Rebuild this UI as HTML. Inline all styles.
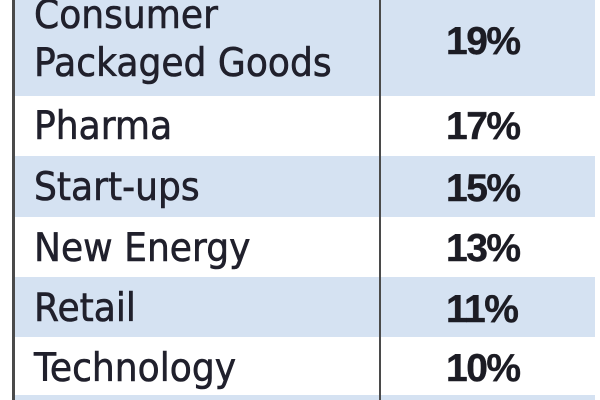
<!DOCTYPE html>
<html>
<head>
<meta charset="utf-8">
<style>
html,body{margin:0;padding:0;}
body{width:600px;height:400px;position:relative;overflow:hidden;background:#fff;}
.band{position:absolute;left:15px;width:580px;background:#d5e2f2;}
.vl{position:absolute;top:0;height:400px;background:#4a4a4a;}
.t{position:absolute;font-family:"DejaVu Sans",sans-serif;font-size:39px;line-height:39px;color:#20202c;white-space:nowrap;transform:scaleX(0.925);transform-origin:0 0;-webkit-text-stroke:0.6px #20202c;}
.n{position:absolute;font-family:"Liberation Sans",sans-serif;font-weight:bold;font-size:39px;line-height:39px;color:#1c1c24;letter-spacing:-1.5px;white-space:nowrap;-webkit-text-stroke:0.4px #1c1c24;}
</style>
</head>
<body>
<div class="band" style="top:0;height:96px;"></div>
<div class="band" style="top:156px;height:61px;"></div>
<div class="band" style="top:277px;height:60px;"></div>
<div class="band" style="top:395px;height:5px;"></div>
<div class="vl" style="left:12px;width:3px;"></div>
<div class="vl" style="left:379px;width:2px;"></div>

<div class="t" style="left:34px;top:-4px;">Consumer</div>
<div class="t" style="left:34px;top:44px;">Packaged Goods</div>
<div class="t" style="left:34px;top:107px;">Pharma</div>
<div class="t" style="left:34px;top:168px;">Start-ups</div>
<div class="t" style="left:34px;top:229px;">New Energy</div>
<div class="t" style="left:34px;top:289px;">Retail</div>
<div class="t" style="left:34px;top:349px;">Technology</div>

<div class="n" style="left:446px;top:22px;">19%</div>
<div class="n" style="left:446px;top:107px;">17%</div>
<div class="n" style="left:446px;top:169px;">15%</div>
<div class="n" style="left:446px;top:229px;">13%</div>
<div class="n" style="left:446px;top:290px;">11%</div>
<div class="n" style="left:446px;top:349px;">10%</div>
</body>
</html>
